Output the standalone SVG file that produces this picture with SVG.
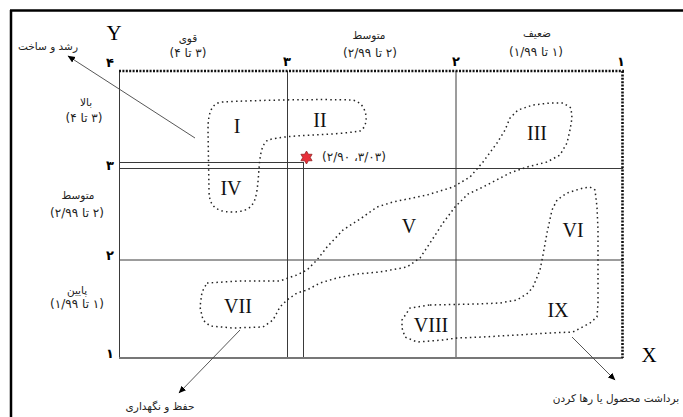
<svg xmlns="http://www.w3.org/2000/svg" width="683" height="417" viewBox="0 0 683 417">
<style>
.fa{font-family:"DejaVu Sans",sans-serif;font-size:10.5px;fill:#222;text-anchor:middle;direction:rtl;unicode-bidi:embed}
.fn{font-size:12px}
.ax{font-family:"DejaVu Sans",sans-serif;font-size:13px;font-weight:bold;fill:#000;text-anchor:middle}
.rn{font-family:"Liberation Serif",serif;font-size:20px;fill:#111;text-anchor:middle}
.xy{font-family:"Liberation Serif",serif;font-size:21px;fill:#000;text-anchor:middle}
.grid{stroke:#3a3a3a;stroke-width:1;fill:none}
.blob{fill:none;stroke:#222;stroke-width:1.5;stroke-dasharray:1.5 3.2;stroke-linejoin:round}
.dotb{stroke:#111;stroke-width:2.6;stroke-dasharray:2 1.4;fill:none}
.arr{stroke:#444;stroke-width:0.9;fill:none;marker-end:url(#ah)}
</style>
<defs>
<marker id="ah" markerWidth="8" markerHeight="8" refX="7" refY="4" orient="auto" markerUnits="userSpaceOnUse">
<path d="M0,0.8 L7.5,4 L0,7.2 Z" fill="#000"/>
</marker>
</defs>
<rect width="683" height="417" fill="#fff"/>
<g id="frame">
<line x1="10" y1="10.5" x2="683" y2="10.5" stroke="#000" stroke-width="2.5"/>
<line x1="11" y1="10" x2="11" y2="417" stroke="#000" stroke-width="2.5"/>
</g>
<g id="grid">
<line class="grid" x1="119.5" y1="71" x2="119.5" y2="358"/>
<line class="grid" x1="287.5" y1="71" x2="287.5" y2="358"/>
<line class="grid" x1="456" y1="71" x2="456" y2="358"/>
<line class="grid" x1="303.5" y1="162" x2="303.5" y2="358" stroke="#555"/>
<line class="grid" x1="119" y1="162.5" x2="304" y2="162.5"/>
<line class="grid" x1="119" y1="168.5" x2="623" y2="168.5"/>
<line class="grid" x1="119" y1="260" x2="623" y2="260"/>
<line x1="119" y1="358" x2="623" y2="358" stroke="#777" stroke-width="1.8"/>
<line class="dotb" x1="119" y1="71" x2="624" y2="71"/>
<line class="dotb" x1="622.5" y1="71" x2="622.5" y2="358"/>
</g>
<g id="axis-labels">
<text class="xy" x="114" y="40">Y</text>
<text class="xy" x="649" y="362">X</text>
<text class="ax" x="110" y="67">۴</text>
<text class="ax" x="287" y="66">۳</text>
<text class="ax" x="456" y="66">۲</text>
<text class="ax" x="621" y="66">۱</text>
<text class="ax" x="110" y="170">۳</text>
<text class="ax" x="110" y="260">۲</text>
<text class="ax" x="110" y="358">۱</text>
<text class="fa" x="188" y="42">قوی</text>
<text class="fa fn" x="188" y="57">(۳ تا ۴)</text>
<text class="fa" x="369" y="39">متوسط</text>
<text class="fa fn" x="370" y="57">(۲ تا ۲/۹۹)</text>
<text class="fa" x="537" y="37">ضعیف</text>
<text class="fa fn" x="536" y="56">(۱ تا ۱/۹۹)</text>
<text class="fa" x="86" y="106">بالا</text>
<text class="fa fn" x="84" y="122">(۳ تا ۴)</text>
<text class="fa" x="78" y="199">متوسط</text>
<text class="fa fn" x="77" y="217">(۲ تا ۲/۹۹)</text>
<text class="fa" x="77" y="294">پایین</text>
<text class="fa fn" x="77" y="308">(۱ تا ۱/۹۹)</text>
</g>
<g id="connectors">
<line class="arr" x1="195" y1="138" x2="68" y2="56"/>
<line class="arr" x1="240" y1="330" x2="179" y2="393" stroke="#888"/>
<line class="arr" x1="572" y1="337" x2="615" y2="380"/>
</g>
<g id="outcome-labels">
<text class="fa" x="48" y="50">رشد و ساخت</text>
<text class="fa" x="160" y="410">حفظ و نگهداری</text>
<text class="fa" x="616" y="402">برداشت محصول یا رها کردن</text>
</g>
<g id="blob-1">
<path class="blob" d="M 222 102 C 260 100, 320 99, 352 100 C 368 102, 370 126, 360 131 C 330 136, 290 134, 268 140 C 258 146, 260 170, 257 190 C 255 205, 250 212, 232 212 C 215 212, 209 205, 209 190 L 208 130 C 208 112, 212 103, 222 102 Z"/>
</g>
<g id="blob-2">
<polyline class="blob" points="207,283 240,281 280,281 288,278 297,275 307,270 317,260 327,247 343,230 363,217 377,207 393,202 427,195 453,187 470,177 483,162 497,143 505,130 510,118 518,110 533,105 550,103 563,103 571,108 572,118 570,130 567,143 560,155 547,162 527,167 510,173 483,187 468,194 455,207 443,223 430,243 420,258 407,267 380,272 357,274 337,278 320,283 307,290 297,293 287,300 280,307 273,320 263,327 233,328 210,326 203,320 200,307 202,292 207,283"/>
</g>
<g id="blob-3">
<polyline class="blob" points="430,305 477,304 500,303 517,300 528,293 533,287 540,270 543,255 547,233 552,210 557,200 567,193 583,188 590,187 595,190 597,207 598,230 598,270 598,303 597,317 590,323 573,332 550,333 517,335 483,337 457,338 443,340 417,342 405,337 402,328 402,320 410,308 430,305"/>
</g>
<g id="numerals">
<text class="rn" x="237" y="133">I</text>
<text class="rn" x="320" y="127">II</text>
<text class="rn" x="537" y="140">III</text>
<text class="rn" x="231" y="195">IV</text>
<text class="rn" x="409" y="233">V</text>
<text class="rn" x="573" y="237">VI</text>
<text class="rn" x="238" y="313">VII</text>
<text class="rn" x="431" y="332">VIII</text>
<text class="rn" x="558" y="317">IX</text>
</g>
<g id="point">
<polygon points="306.5,151 308.4,154.25 312.1,154.25 310.25,157.5 312.1,160.75 308.4,160.75 306.5,164 304.6,160.75 300.9,160.75 302.75,157.5 300.9,154.25 304.6,154.25" fill="#e8303a" stroke="#8a1a1a" stroke-width="0.7"/>
<text class="fa fn" x="354" y="161">(۳/۰۳، ۲/۹۰)</text>
</g>
</svg>
